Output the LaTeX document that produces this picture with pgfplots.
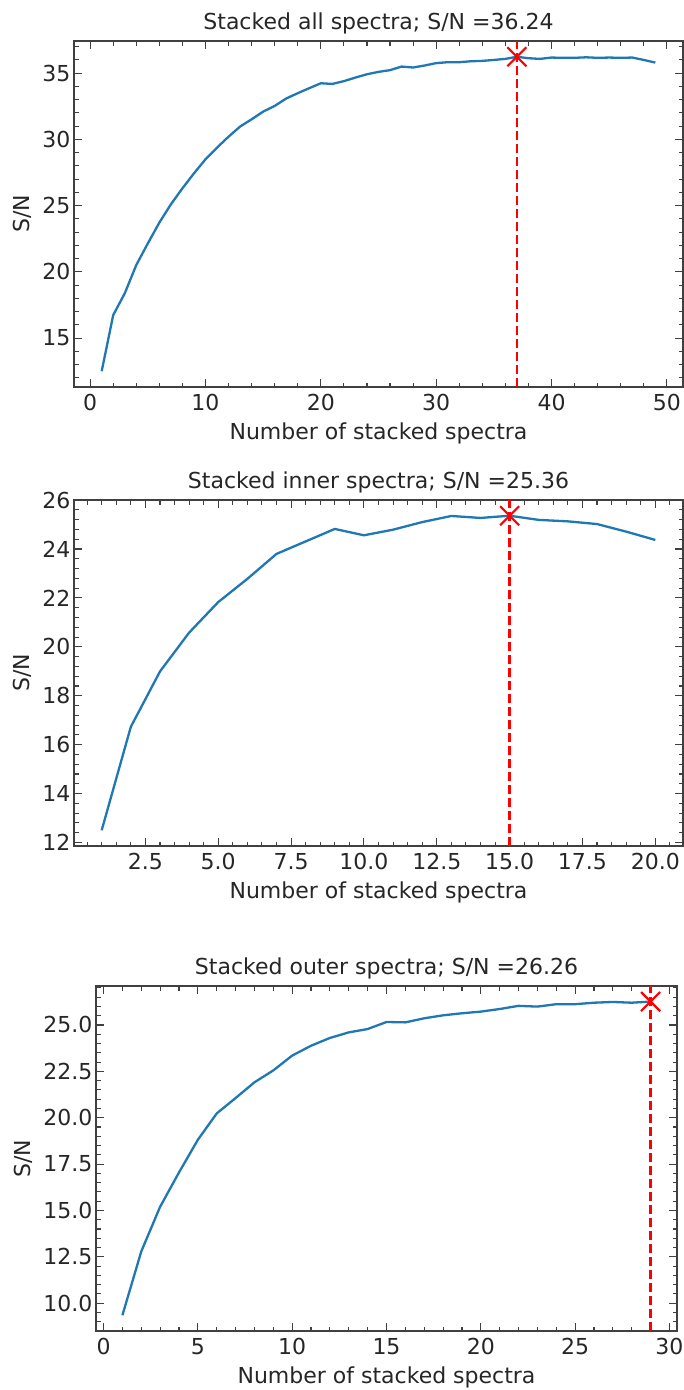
\documentclass[border=0pt]{standalone}
\usepackage{fontspec}
\setmainfont{DejaVu Sans}
\usepackage{pgfplots}
\pgfplotsset{compat=1.18}
\definecolor{mplblue}{HTML}{1F77B4}
\definecolor{txt}{HTML}{262626}

\pgfplotsset{
  snpanel/.style={
    scale only axis, anchor=north west,
    axis line style={black!75, line width=1.2pt},
    tick style={black!75, line width=1.1pt},
    tick align=inside, tick pos=both,
    major tick length=8pt, minor tick length=4.5pt,
    every tick label/.append style={font=\fontsize{22}{26}\selectfont, text=txt},
    xticklabel style={yshift=-4pt},
    /pgf/number format/assume math mode=true,
    label style={font=\fontsize{22}{26}\selectfont, text=txt},
    title style={font=\fontsize{22}{26}\selectfont, text=txt, yshift=-3pt},
    xlabel={Number of stacked spectra}, ylabel={S/N},
    xlabel shift=5pt, ylabel shift=4pt,
  },
  snline/.style={mplblue, line width=2.3pt, line join=round},
  snpeak/.style={red, line width=2.4pt, dash pattern=on 9pt off 4pt},
  snmark/.style={red, only marks, mark=x, mark size=13.5pt, mark options={line width=2.2pt}},
}

\begin{document}
\begin{tikzpicture}
\path[use as bounding box] (0,0) rectangle (684pt,-1390pt);

% all spectra
\begin{axis}[snpanel, at={(74pt,-41pt)}, width=609pt, height=346pt,
  title={Stacked all spectra; S/N =36.24},
  xmin=-1.4, xmax=51.4, ymin=11.31, ymax=37.43,
  xtick={0,10,...,50}, ytick={15,20,...,35},
  minor xtick={0,2,...,50}, minor ytick={12,...,37}]
\addplot[snline] coordinates {
(1,12.5) (2,16.74) (3,18.38) (4,20.52) (5,22.15) (6,23.72) (7,25.1) (8,26.31)
(9,27.44) (10,28.5) (11,29.38) (12,30.21) (13,30.97) (14,31.52) (15,32.1)
(16,32.53) (17,33.09) (18,33.49) (19,33.87) (20,34.24) (21,34.19) (22,34.4)
(23,34.67) (24,34.92) (25,35.1) (26,35.23) (27,35.5) (28,35.43) (29,35.58)
(30,35.76) (31,35.83) (32,35.83) (33,35.9) (34,35.93) (35,36.0) (36,36.08)
(37,36.24) (38,36.13) (39,36.08) (40,36.18) (41,36.16) (42,36.16) (43,36.2)
(44,36.16) (45,36.18) (46,36.16) (47,36.18) (48,36.0) (49,35.8)
};
\addplot[snpeak] coordinates {(37,11.31) (37,37.43)};
\addplot[snmark] coordinates {(37,36.24)};
\end{axis}

% inner spectra
\begin{axis}[snpanel, at={(74pt,-500pt)}, width=609pt, height=346pt,
  title={Stacked inner spectra; S/N =25.36},
  xmin=0.05, xmax=20.95, ymin=11.857, ymax=26.003,
  xtick={2.5,5,...,20}, ytick={12,14,...,26},
  minor xtick={0.5,1,...,20.5}, minor ytick={12,12.4,...,26},
  xticklabel style={/pgf/number format/.cd, fixed, fixed zerofill, precision=1}]
\addplot[snline] coordinates {
(1,12.5) (2,16.73) (3,18.99) (4,20.58) (5,21.83) (6,22.78) (7,23.8) (8,24.31)
(9,24.82) (10,24.56) (11,24.79) (12,25.1) (13,25.35) (14,25.27) (15,25.36)
(16,25.19) (17,25.13) (18,25.02) (19,24.71) (20,24.37)
};
\addplot[snpeak] coordinates {(15,11.857) (15,26.003)};
\addplot[snmark] coordinates {(15,25.36)};
\end{axis}

% outer spectra
\begin{axis}[snpanel, at={(96pt,-986pt)}, width=581pt, height=345pt,
  title={Stacked outer spectra; S/N =26.26},
  xmin=-0.4, xmax=30.4, ymin=8.5, ymax=27.1,
  xtick={0,5,...,30}, ytick={10,12.5,...,25},
  minor xtick={0,...,30}, minor ytick={9,9.5,...,27},
  yticklabel style={/pgf/number format/.cd, fixed, fixed zerofill, precision=1}]
\addplot[snline] coordinates {
(1,9.35) (2,12.79) (3,15.2) (4,17.05) (5,18.81) (6,20.23) (7,21.06) (8,21.91)
(9,22.55) (10,23.35) (11,23.88) (12,24.3) (13,24.6) (14,24.78) (15,25.16)
(16,25.14) (17,25.36) (18,25.52) (19,25.63) (20,25.72) (21,25.86) (22,26.03)
(23,25.99) (24,26.12) (25,26.12) (26,26.2) (27,26.24) (28,26.2) (29,26.26)
};
\addplot[snpeak] coordinates {(29,8.5) (29,27.1)};
\addplot[snmark] coordinates {(29,26.26)};
\end{axis}
\end{tikzpicture}
\end{document}
